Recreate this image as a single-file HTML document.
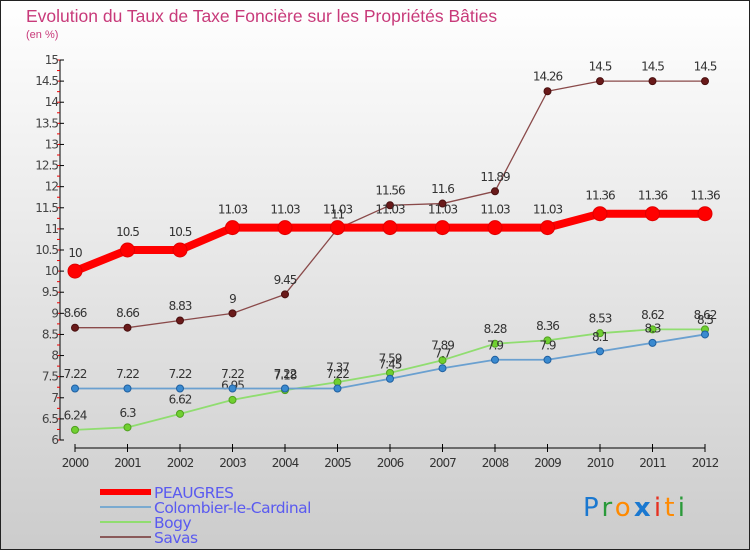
<!DOCTYPE html>
<html><head><meta charset="utf-8"><style>
html,body{margin:0;padding:0}
body{width:750px;height:550px;overflow:hidden;font-family:"DejaVu Sans","Liberation Sans",sans-serif}
</style></head><body>
<svg id="chart" width="750" height="550" xmlns="http://www.w3.org/2000/svg">
<defs><linearGradient id="bg" x1="0" y1="0" x2="0" y2="1"><stop offset="0" stop-color="#ffffff"/><stop offset="1" stop-color="#cccccc"/></linearGradient></defs>
<rect x="0.5" y="0.5" width="749" height="549" fill="url(#bg)" stroke="#222" stroke-width="1"/>
<text x="26" y="22" font-size="17.5" fill="#c83a7a" font-family="Liberation Sans, sans-serif">Evolution du Taux de Taxe Foncière sur les Propriétés Bâties</text>
<text x="26" y="38" font-size="11" fill="#c83a7a" font-family="Liberation Sans, sans-serif">(en %)</text>
<g id="axes"></g><g id="series"></g><g id="legend"></g>
<text x="583" y="516" font-family="DejaVu Sans, sans-serif" font-size="26" textLength="102" lengthAdjust="spacing"><tspan fill="#1a78d0">P</tspan><tspan fill="#2a9a3a">r</tspan><tspan fill="#ff8a00">o</tspan><tspan fill="#1a78d0" font-weight="bold">x</tspan><tspan fill="#e63020">i</tspan><tspan fill="#ff8a00">t</tspan><tspan fill="#2a9a3a">i</tspan></text>
</svg>
<script>
const years=[2000,2001,2002,2003,2004,2005,2006,2007,2008,2009,2010,2011,2012];
const yTicks=[6,6.5,7,7.5,8,8.5,9,9.5,10,10.5,11,11.5,12,12.5,13,13.5,14,14.5,15];
const peaugres=[10,10.5,10.5,11.03,11.03,11.03,11.03,11.03,11.03,11.03,11.36,11.36,11.36];
const colombier=[7.22,7.22,7.22,7.22,7.22,7.22,7.45,7.7,7.9,7.9,8.1,8.3,8.5];
const bogy=[6.24,6.3,6.62,6.95,7.18,7.37,7.59,7.89,8.28,8.36,8.53,8.62,8.62];
const savas=[8.66,8.66,8.83,9,9.45,11,11.56,11.6,11.89,14.26,14.5,14.5,14.5];
const NS="http://www.w3.org/2000/svg";
const X=i=>75+i*52.5;
const Y=v=>440-(v-6)*(380/9);
function mk(tag,attrs,parent){const e=document.createElementNS(NS,tag);for(const k in attrs)e.setAttribute(k,attrs[k]);parent.appendChild(e);return e;}
const axes=document.getElementById('axes');
const ya=mk('line',{x1:60,y1:Y(15),x2:60,y2:Y(6),stroke:'#000','stroke-width':1},axes);


for(let v=6;v<=15.001;v+=0.25){const m=mk('line',{x1:57,y1:Y(v),x2:60,y2:Y(v),stroke:'#e00','stroke-width':1},axes);}
yTicks.forEach(t=>{
 const l=mk('line',{x1:60,y1:Y(t),x2:64,y2:Y(t),stroke:'#000'},axes);
 
 
 const tx=mk('text',{x:58,y:Y(t)+4,'text-anchor':'end','font-size':12,fill:'#444','letter-spacing':'-1'},axes);
 tx.textContent=String(t);
 
 
});
const xa=mk('line',{x1:X(0),y1:448,x2:X(12),y2:448,stroke:'#000'},axes);


years.forEach((yr,i)=>{
 const l=mk('line',{x1:X(i),y1:444,x2:X(i),y2:452,stroke:'#000'},axes);
 
 
 const tx=mk('text',{x:X(i),y:467,'text-anchor':'middle','font-size':12,fill:'#333','letter-spacing':'-1'},axes);
 tx.textContent=String(yr);
 
 
});
const S=document.getElementById('series');
function draw(vals,name,color,w,r,fill,stroke){
 const g=mk('g',{},S);
 
 
 const p=mk('polyline',{points:vals.map((v,i)=>X(i)+','+Y(v)).join(' '),fill:'none',stroke:color,'stroke-width':w,'stroke-linejoin':'round'},g);
 
 
 vals.forEach((v,i)=>{
  const c=mk('circle',{cx:X(i),cy:Y(v),r:r,fill:fill,stroke:stroke,'stroke-width':1},g);
  
  
  const t=mk('text',{x:X(i),y:Y(v)-(r+7),'text-anchor':'middle','font-size':12,fill:'#333','letter-spacing':'-1'},g);
  t.textContent=String(v);
  
  
 });
}
draw(savas,'savas','#8a4a4a',1.3,3.5,'#6a1a1a','#4a1010');
draw(bogy,'bogy','#90dd70',1.8,3.5,'#70d030','#50a020');
draw(colombier,'colombier','#6aa0d0',1.8,3.5,'#3a8ad0','#2060a0');
draw(peaugres,'peaugres','#ff0000',8,7,'#ff0000','#e00000');
const L=document.getElementById('legend');
const items=[['PEAUGRES','#ff0000',6],['Colombier-le-Cardinal','#7aaad0',2],['Bogy','#90dd70',2],['Savas','#8a5a5a',2]];
items.forEach((it,i)=>{
 const y=492+i*15;
 const l=mk('line',{x1:100,y1:y,x2:151,y2:y,stroke:it[1],'stroke-width':it[2]},L);
 
 
 const t=mk('text',{x:154,y:y+6,'font-size':15.5,fill:'#5a5af0','font-family':'DejaVu Sans, sans-serif','letter-spacing':'-0.5'},L);
 t.textContent=it[0];
 
 
});
</script>
</body></html>
